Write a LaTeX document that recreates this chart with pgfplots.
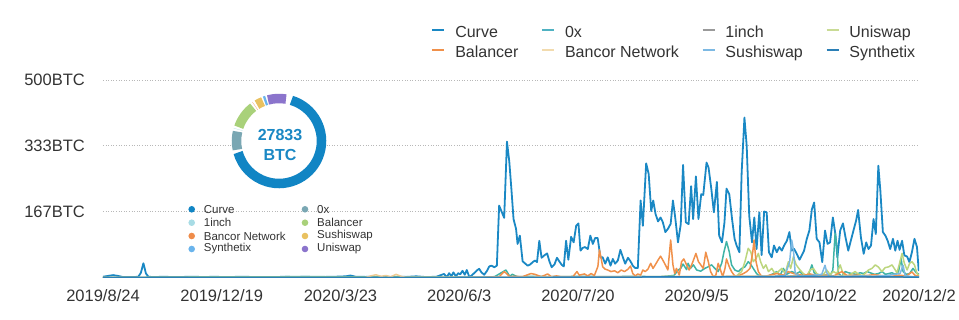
\documentclass[border=0pt]{standalone}
\usepackage{pgfplots}
\pgfplotsset{compat=1.18}
\usepackage{fontspec}
\setmainfont{Liberation Sans}
\definecolor{labelgray}{HTML}{333333}
\definecolor{gridgray}{HTML}{B8B8B8}
\definecolor{cCurve}{HTML}{1A88C4}
\definecolor{c0x}{HTML}{3FB3A6}
\definecolor{c1inch}{HTML}{9E9AAE}
\definecolor{cUni}{HTML}{BCD67E}
\definecolor{cBal}{HTML}{F0904A}
\definecolor{cBanc}{HTML}{EFCB92}
\definecolor{cSushi}{HTML}{7DB9E3}
\definecolor{cSynth}{HTML}{2B7FB6}
\definecolor{l0x}{HTML}{4FB2C2}
\definecolor{l1inch}{HTML}{9A9A9A}
\definecolor{lUni}{HTML}{C9DB95}
\definecolor{lBanc}{HTML}{F2DBAE}
\definecolor{dCurve}{HTML}{1185C4}
\definecolor{d0x}{HTML}{7AA7B3}
\definecolor{d1inch}{HTML}{A8DCE5}
\definecolor{dBal}{HTML}{A9D17A}
\definecolor{dBanc}{HTML}{EF8C4A}
\definecolor{dSushi}{HTML}{E9C160}
\definecolor{dSynth}{HTML}{6AB4EC}
\definecolor{dUni}{HTML}{8B74CC}
\begin{document}
\begin{tikzpicture}[x=1pt,y=1pt]
\path[use as bounding box] (0,0) rectangle (959,319);
\begin{axis}[
  at={(103pt,41.5pt)}, anchor=south west,
  scale only axis, width=816pt, height=197.5pt,
  xmin=0, xmax=323, ymin=0, ymax=500,
  axis line style={draw=none}, major tick length=0pt,
  ytick={166.67,333.33,500}, yticklabels={167BTC,333BTC,500BTC},
  xtick={0,47,94,141,188,235,282,323},
  xticklabels={2019/8/24,2019/12/19,2020/3/23,2020/6/3,2020/7/20,2020/9/5,2020/10/22,2020/12/2},
  ymajorgrids, grid style={gridgray, line width=0.7pt, dash pattern=on 1pt off 1.6pt},
  tick label style={font=\fontsize{16.5}{18}\selectfont, text=labelgray},
  yticklabel style={anchor=east, inner sep=0pt, xshift=-18pt},
  xticklabel style={anchor=north, inner sep=0pt, yshift=-11.5pt},
  legend columns=4, legend cell align=left,
  legend style={at={(axis description cs:0.4028,1.2735)}, anchor=north west, draw=none, fill=none,
    inner sep=0pt, outer sep=0pt, font=\fontsize{16}{18}\selectfont, text=labelgray, row sep=4pt,
    nodes={inner sep=0pt, text height=12pt, text depth=4pt},
    /tikz/every even column/.append style={column sep=23pt},
    /tikz/every odd column/.append style={column sep=10pt}},
  legend image code/.code={\draw[line width=1.6pt] (0pt,4pt) -- (12pt,4pt);},
  line join=round,
]
\addlegendimage{cCurve}\addlegendentry{Curve}
\addlegendimage{l0x}\addlegendentry{0x}
\addlegendimage{l1inch}\addlegendentry{1inch}
\addlegendimage{lUni}\addlegendentry{Uniswap}
\addlegendimage{cBal}\addlegendentry{Balancer}
\addlegendimage{lBanc}\addlegendentry{Bancor Network}
\addlegendimage{cSushi}\addlegendentry{Sushiswap}
\addlegendimage{cSynth}\addlegendentry{Synthetix}
% Curve
\addplot[cCurve, line width=1.8pt, forget plot] coordinates {
(0,2)(2,4)(4,6)(6,4)(8,1)(10,1.5)(12,1)(14,2)(15,12)(16,36)(17,10)(18,2)(20,1)(24,2)(28,1)(32,1.5)(36,2)(40,1)(44,2)(48,1)(52,1.5)(56,2)(60,1)(64,1.5)(68,1)(72,2)(76,1)(80,2)(84,1)(88,1.5)(92,2)(96,3)(98,5)(100,2)(104,1.5)(108,2)(112,1)(116,2)(120,1.5)(124,3)(128,1)(132,2)
(135.0,9)(136.1,1)(137.0,11)(137.9,3)(138.7,13)(139.7,3)(140.6,11)(141.4,8)(142.3,17)(143.2,7)(144.0,19)(145.0,1)(145.9,5)(146.9,11)(148.0,18)(148.9,22)(149.8,13)(150.9,7)(152.0,17)(152.9,28)(153.8,30)(154.9,26)(155.9,30)(156.8,182)(157.9,165)(158.8,151)(159.9,344)(160.8,295)(161.7,220)(162.5,148)(163.5,123)(164.1,85)(165.0,106)(166.1,41)(167.0,36)(168.1,30)(169.1,33)(170.1,39)(171.0,43)(171.8,39)(172.7,93)(173.6,50)(174.7,56)(175.8,61)(176.7,41)(177.6,26)(178.7,33)(179.7,50)(180.7,40)(181.6,32)(182.4,28)
(183.3,93)(184.2,45)(185.3,103)(186.3,89)(187.3,131)(188.2,137)(189.0,68)(189.9,75)(190.8,77)(191.9,72)(192.9,106)(193.9,85)(194.8,100)(195.8,100)(196.9,51)(197.8,51)(198.8,35)(199.8,51)(200.9,30)(201.8,47)(202.7,35)(203.8,43)(204.8,70)(205.8,51)(206.7,35)(207.8,50)(208.8,41)(209.7,30)(210.7,24)(211.7,24)(212.8,195)(213.7,131)(215.0,289)(216.0,262)(217.0,168)(217.8,195)(218.7,161)(219.7,142)(220.7,152)(221.6,140)(222.6,115)(223.6,123)(224.7,136)(225.6,195)(226.5,152)(227.6,89)(228.7,135)(229.6,285)
(230.7,140)(231.8,135)(232.8,231)(233.6,148)(234.7,256)(235.7,148)(236.8,211)(237.6,209)(238.9,291)(239.7,278)(240.8,224)(241.8,165)(243.0,242)(243.9,106)(245.0,89)(246.0,140)(246.8,225)(247.9,211)(249.0,148)(250.0,98)(250.8,81)(251.9,64)(252.8,266)(253.9,405)(254.8,333)(255.8,156)(256.9,89)(257.8,152)(258.7,72)(259.8,165)(260.7,57)(261.7,167)(262.7,165)(263.6,64)(264.7,51)(265.6,81)(266.7,64)(267.7,77)(268.7,68)(269.6,81)(270.7,93)(271.7,115)(272.6,68)(273.6,72)(274.6,60)
(275.7,45)(276.6,56)(277.5,68)(278.6,98)(279.6,119)(280.6,173)(281.5,190)(282.5,98)(283.6,89)(284.7,39)(285.8,119)(286.8,85)(287.8,89)(288.9,152)(289.9,110)(290.7,51)(291.8,119)(292.9,137)(293.9,102)(295.0,68)(296.0,93)(297.1,120)(298.1,144)(298.9,171)(300.0,102)(301.1,60)(302.1,89)(303.0,72)(304.0,81)(305.0,148)(305.9,110)(306.9,283)(307.7,220)(308.7,115)(309.7,106)(310.6,93)(311.6,72)(312.7,98)(313.6,68)(314.5,93)(315.3,70)(316.3,93)(317.2,56)(318.3,53)(319.2,39)(320.2,64)(321.2,98)(322.2,77)(322.9,16)
};
% 0x
\addplot[c0x, line width=1.5pt, forget plot] coordinates {
(0,0)(40,1.5)(80,2)(120,1.5)(150,1)(155,2)(159.5,19)(161,3)(162,8)(164,2)(170,3)(180,2)(190,3)(200,2)(210,3)(220,2)(226,5)(227.7,19)(228.7,23)(229.6,34)(231,20)(231.6,36)(232.5,23)(233.7,32)(235,19)(236.6,16)(238.2,23)(239.5,27)(240.9,32)(242.2,23)(243.5,15)(244.9,36)(245.8,65)(246.8,91)(247.9,65)(248.8,32)(250.1,19)(251.5,15)(252.8,23)(254.1,27)(255.4,40)(256.4,33)(257.4,23)(258.7,10)(260.1,2)(261.4,3)(262.7,2)(265.4,10)(266.7,15)(268,5)(269.3,23)(270.6,8)(272.6,15)(274.6,10)(275.9,15)(277.2,5)(279.2,6)(280.6,32)(281.5,12)(282.8,6)(284.1,3)(285.4,6)(286.8,6)(287.8,5)(288.9,19)(289.8,112)(290.5,78)(291.1,10)(292.5,3)(293.8,15)(295.1,12)(296.4,10)(298.1,8)(299.7,12)(301.1,10)(302.4,15)(303.7,12)(305.3,8)(307,10)(308.4,15)(309.7,8)(311,10)(312.3,12)(313.6,8)(314.9,15)(315.9,48)(316.7,15)(318,8)(319.3,10)(320.6,23)(321.9,12)(323,8)
};
% 1inch
\addplot[c1inch, line width=1.5pt, forget plot] coordinates {(0,0)(100,0)(200,0)(323,0)};
% Uniswap
\addplot[cUni, line width=1.5pt, forget plot] coordinates {
(0,0)(250,0)(252.8,15)(254.1,40)(255.4,74)(256.4,65)(257.4,40)(258.5,48)(259.4,61)(260.3,40)(261.4,23)(262.4,32)(263.4,15)(264.7,23)(266,10)(267.3,15)(268.7,23)(270,10)(271.3,40)(272.2,23)(273.3,53)(274.4,32)(275.9,19)(277.2,10)(278.6,5)(279.9,19)(281.2,23)(282.5,10)(283.9,5)(285.2,8)(286.5,19)(287.8,7)(289.1,15)(290.5,10)(291.8,32)(292.9,10)(293.8,5)(295.1,5)(296.4,10)(297.7,15)(299.1,8)(300.4,5)(301.7,10)(303,19)(304.4,23)(305.7,32)(307,26)(308.3,15)(309.6,25)(311,27)(312.3,32)(313.2,23)(314.3,12)(315.3,36)(316.3,61)(317.2,36)(318.3,19)(319.3,36)(320.2,40)(321.2,32)(322.2,10)(323,5)
};
% Balancer
\addplot[cBal, line width=1.5pt, forget plot] coordinates {
(0,0)(150,0)(156.8,2)(158.8,15)(159.9,9)(161,2)(163,3)(166,2)(169.4,10)(171,8)(173.5,2)(176,9)(177.5,2)(179.5,4)(181.5,2)(186,2)(187.6,15)(188.5,6)(190.6,9)(191.9,4)(193.2,10)(194.5,5)(195.9,28)(196.5,70)(197.2,48)(197.8,27)(198.8,21)(199.8,19)(201.1,15)(202.5,17)(203.8,12)(205.1,19)(206.4,15)(207.8,21)(208.8,29)(209.7,10)(210.7,4)(211.7,9)(212.8,6)(213.7,19)(214.6,15)(215.7,21)(216.8,36)(217.7,23)(218.6,32)(219.7,44)(220.7,54)(221.6,44)(222.6,32)(223.6,19)(224.7,95)(225.6,32)(226.3,10)(227,23)(228.1,6)(229,40)(229.9,47)(231,32)(232,19)(233,32)(233.9,47)(234.7,61)(235.7,40)(236.5,33)(237.6,23)(238.6,64)(239.6,40)(240.5,15)(241.6,2)(242.6,6)(243.5,36)(244.2,23)(245.3,2)(246.2,23)(246.8,47)(247.9,27)(248.8,15)(249.8,6)(250.8,2)(252.1,6)(253.5,10)(254.8,15)(256.1,23)(257.2,65)(257.7,95)(258.5,40)(259.4,15)(260.3,6)(261.4,2)(264,6)(266.7,10)(269.3,6)(271.2,15)(273.3,10)(275,8)(277.2,5)(279.9,9)(283,4)(286.5,6)(289,3)(292.5,15)(294.5,5)(298.4,6)(300.7,4)(305,7)(308,5)(312.3,3)(315,6)(318,4)(320.2,14)(321.5,5)(323,3)
};
% Bancor Network
\addplot[cBanc, line width=1.5pt, forget plot] coordinates {
(0,0)(104,0)(106,4)(108,7)(110,3)(112,5)(114,2)(116,8)(118,3)(120,0)(160,1)(200,2)(240,3)(280,4)(300,3)(323,2)
};
% Sushiswap
\addplot[cSushi, line width=1.5pt, forget plot] coordinates {
(0,0)(255,0)(260,3)(265,2)(270,5)(271.8,40)(272.6,95)(273.3,70)(274,10)(276,3)(280,5)(284.5,8)(285.8,31)(286.5,12)(287.5,3)(292,2)(300,4)(305,3)(310,5)(315.5,10)(316.7,31)(317.5,5)(320,2)(323,1)
};
% Synthetix
\addplot[cSynth, line width=1.5pt, forget plot] coordinates {
(0,0)(140,0)(200,1)(250,2)(280,3)(300,2)(323,1)
};
\end{axis}
% donut
\fill[white] (279,178) circle (48);
\gdef\cur{73}
\foreach \v/\c/\g in {19772/dCurve/4, 2037/d0x/3, 20/d1inch/3, 2800/dBal/3, 20/dBanc/3, 764/dSushi/2, 255/dSynth/2, 2037/dUni/4} {
  \edef\e{\fpeval{\cur - \v/27833*334}}
  \draw[\c, line width=9.5pt] (279,178) ++(\cur:42.5) arc[start angle=\cur, end angle=\e, radius=42.5];
  \xdef\cur{\fpeval{\e - \g}}
}
\node[text=cCurve, font=\fontsize{16}{18}\selectfont\bfseries] at (280,184) {27833};
\node[text=cCurve, font=\fontsize{16}{18}\selectfont\bfseries] at (280,164) {BTC};
% donut legend
\begin{scope}[font=\fontsize{11.5}{13}\selectfont, text=labelgray]
\foreach \xd/\yd/\c/\t in {191.7/109.7/dCurve/Curve, 305/109.7/d0x/0x, 191.7/96.3/d1inch/1inch, 305/96.3/dBal/Balancer, 191.7/83/dBanc/Bancor Network, 305/83/dSushi/Sushiswap, 191.7/70/dSynth/Synthetix, 305/70/dUni/Uniswap} {
  \fill[\c] (\xd,\yd) circle (3.3);
  \node[anchor=west, inner sep=0pt] at (\xd+12,\yd) {\t};
}
\end{scope}
\end{tikzpicture}
\end{document}
